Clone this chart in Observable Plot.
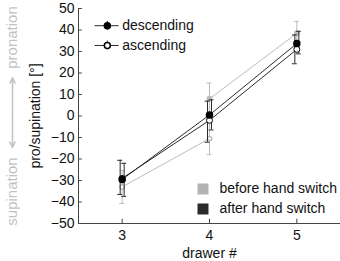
<!DOCTYPE html>
<html>
<head>
<meta charset="utf-8">
<script src="https://cdn.jsdelivr.net/npm/d3@7"></script>
<script src="https://cdn.jsdelivr.net/npm/@observablehq/plot@0.6"></script>
<style>
  html, body { margin: 0; padding: 0; background: #fff; }
  #chart { width: 340px; height: 261px; }
  svg { font-family: "Liberation Sans", Arial, sans-serif; }
</style>
</head>
<body>
<div id="chart"></div>
<script>
// ---- data ----
const drawers = [3, 4, 5];
const descMean = [-29.5, 0.5, 33.7];
const descLo = [-37.4, -6.5, 28.9];
const descHi = [-22, 7.5, 39.4];
const ascMean = [-29, -2, 31];
const ascLo = [-36.5, -12.2, 24.3];
const ascHi = [-20.6, 6.9, 37.7];

const beforeDescDrawers = [4, 5];
const beforeDescMean = [8, 38.5];
const beforeDescLo = [0.7, 33];
const beforeDescHi = [15.3, 44];
const beforeAscDrawers = [3, 4];
const beforeAscMean = [-33, -10.5];
const beforeAscLo = [-40.7, -18];
const beforeAscHi = [-25.3, -3];

const xTicks = [3, 4, 5];
const yTicks = [-50, -40, -30, -20, -10, 0, 10, 20, 30, 40, 50];
const seriesLabels = ["descending", "ascending"];
const switchLabels = ["before hand switch", "after hand switch"];
const sideLabels = ["pronation", "supination"];

// ---- build tables ----
const mk = (xs, m, lo, hi) => xs.map((x, i) => ({x, m: m[i], lo: lo[i], hi: hi[i]}));
const desc = mk(drawers, descMean, descLo, descHi);
const asc = mk(drawers, ascMean, ascLo, ascHi);
const bDesc = mk(beforeDescDrawers, beforeDescMean, beforeDescLo, beforeDescHi);
const bAsc = mk(beforeAscDrawers, beforeAscMean, beforeAscLo, beforeAscHi);

const GRAY = "#bcbcbc";
const DARK = "#2b2b2b";
const CAP = 0.028;

function errorBars(data, color, dx) {
  return [
    Plot.ruleX(data, {x: "x", y1: "lo", y2: "hi", stroke: color, strokeWidth: 1, dx}),
    Plot.ruleY(data, {y: "hi", x1: d => d.x - CAP, x2: d => d.x + CAP, stroke: color, dx}),
    Plot.ruleY(data, {y: "lo", x1: d => d.x - CAP, x2: d => d.x + CAP, stroke: color, dx})
  ];
}

// legend positions (data space)
const legendRows = seriesLabels.map((label, i) => ({label, y: [42, 32.8][i], fill: i === 0 ? "black" : "white"}));

const chart = Plot.plot({
  width: 340,
  height: 261,
  marginLeft: 78,
  marginRight: 0,
  marginTop: 8,
  marginBottom: 38,
  style: {fontFamily: "'Liberation Sans', Arial, sans-serif", overflow: "visible"},
  x: {domain: [2.5, 5.5]},
  y: {domain: [-50, 50]},
  marks: [
    // axes
    Plot.axisX({ticks: xTicks, tickFormat: d3.format("d"), tickSize: 0, tickPadding: 7, fontSize: 14, label: null, color: "#111"}),
    Plot.axisY({ticks: yTicks, tickFormat: d3.format("d"), tickSize: 0, tickPadding: 4, fontSize: 14, label: null, color: "#111"}),
    Plot.ruleX([2.5], {stroke: "#444"}),
    Plot.ruleY([-50], {stroke: "#444"}),
    Plot.ruleY(yTicks, {y: d => d, x1: 2.5, x2: 2.545, stroke: "#444"}),
    Plot.ruleX(xTicks, {x: d => d, y1: -50, y2: -48, stroke: "#444"}),

    // before hand switch (gray)
    ...errorBars(bDesc, GRAY, 0),
    ...errorBars(bAsc, GRAY, 0),
    Plot.line(bDesc, {x: "x", y: "m", stroke: GRAY, strokeWidth: 1}),
    Plot.line(bAsc, {x: "x", y: "m", stroke: GRAY, strokeWidth: 1}),
    Plot.dot(bDesc, {x: "x", y: "m", r: 2.2, fill: GRAY, stroke: GRAY}),
    Plot.dot(bAsc, {x: "x", y: "m", r: 2.2, fill: "white", stroke: GRAY}),

    // after hand switch (dark)
    ...errorBars(desc, DARK, 2),
    ...errorBars(asc, DARK, -2),
    Plot.line(asc, {x: "x", y: "m", stroke: DARK, strokeWidth: 1}),
    Plot.line(desc, {x: "x", y: "m", stroke: DARK, strokeWidth: 1}),
    Plot.dot(asc, {x: "x", y: "m", r: 3, fill: "white", stroke: "black", strokeWidth: 1}),
    Plot.dot(desc, {x: "x", y: "m", r: 3, fill: "black", stroke: "black"}),

    // series legend
    Plot.ruleY(legendRows, {y: "y", x1: 2.69, x2: 2.965, stroke: DARK}),
    Plot.ruleX(legendRows, {x: 2.83, y1: d => d.y - 2, y2: d => d.y + 2, stroke: DARK}),
    Plot.dot(legendRows, {x: 2.83, y: "y", r: 3, fill: "fill", stroke: "black"}),
    Plot.text(legendRows, {x: 3.0, y: "y", text: "label", textAnchor: "start", fontSize: 14, fill: "#111"}),

    // hand switch legend
    Plot.dot([switchLabels[0]], {frameAnchor: "top-left", dx: 124.5, dy: 180.5, symbol: "square", r: 6.2, fill: "#b3b3b3", stroke: "none"}),
    Plot.dot([switchLabels[1]], {frameAnchor: "top-left", dx: 124.5, dy: 200.5, symbol: "square", r: 6.2, fill: "#2a2a2a", stroke: "none"}),
    Plot.text([switchLabels[0]], {frameAnchor: "top-left", dx: 141, dy: 180.5, textAnchor: "start", lineAnchor: "middle", fontSize: 14, fill: "#111"}),
    Plot.text([switchLabels[1]], {frameAnchor: "top-left", dx: 141, dy: 200.5, textAnchor: "start", lineAnchor: "middle", fontSize: 14, fill: "#111"}),

    // axis titles
    Plot.text(["pro/supination [°]"], {frameAnchor: "left", dx: -43, rotate: -90, textAnchor: "middle", lineAnchor: "middle", fontSize: 14, fill: "#111"}),
    Plot.text(["drawer #"], {frameAnchor: "bottom", dy: 30, lineAnchor: "middle", fontSize: 14, fill: "#111"}),

    // side annotation
    Plot.text([sideLabels[0]], {frameAnchor: "top-left", dx: -66, dy: 29, rotate: -90, textAnchor: "middle", lineAnchor: "middle", fontSize: 15, fill: "#c2c2c2"}),
    Plot.text([sideLabels[1]], {frameAnchor: "top-left", dx: -66, dy: 183, rotate: -90, textAnchor: "middle", lineAnchor: "middle", fontSize: 15, fill: "#c2c2c2"}),
    Plot.arrow([{y1: 1.5, y2: 17.8}, {y1: 1.5, y2: -14.6}], {x1: 2.5, x2: 2.5, y1: "y1", y2: "y2", dx: -66, stroke: "#c2c2c2", strokeWidth: 1.5, headLength: 6, headAngle: 50})
  ]
});
document.getElementById("chart").appendChild(chart);
</script>
</body>
</html>
